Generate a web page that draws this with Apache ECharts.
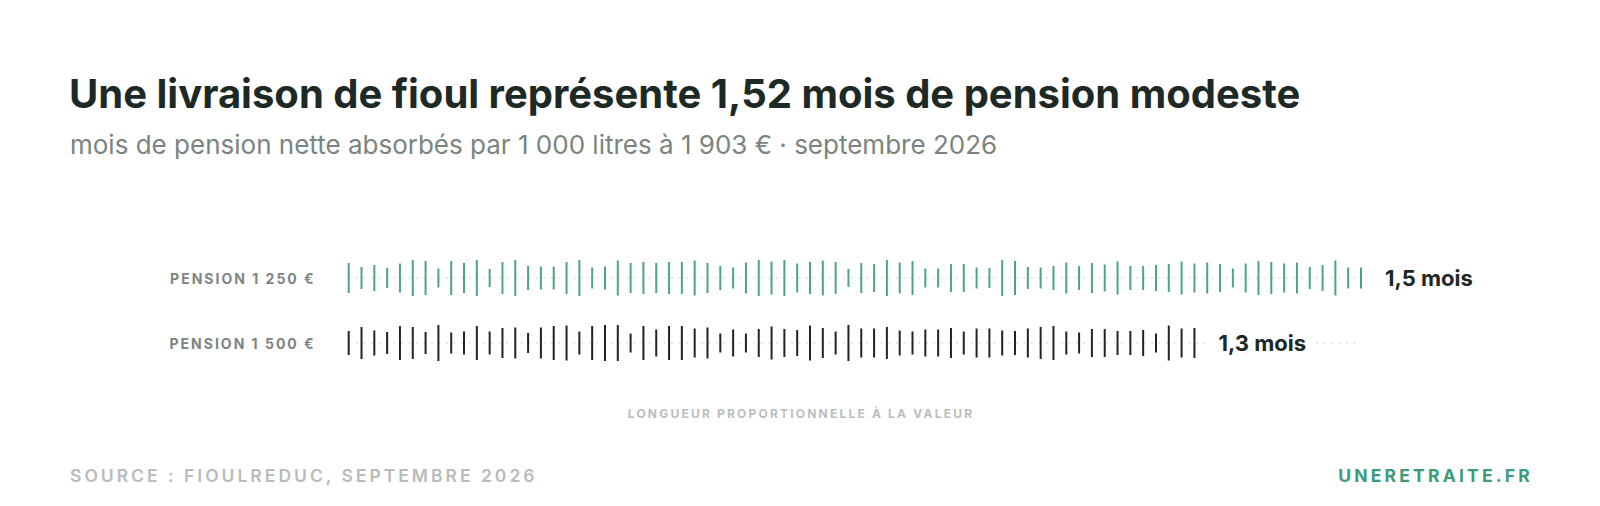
<!DOCTYPE html>
<html>
<head>
<meta charset="utf-8">
<title>Fioul et pension</title>
<script src="https://cdn.jsdelivr.net/npm/echarts@6.0.0/dist/echarts.min.js"></script>
<style>
  html, body { margin: 0; padding: 0; background: #ffffff; }
  #main { width: 1600px; height: 506px; }
  /* espacement des lettres pour les petites capitales (rendu svg) */
  #main text[fill="#7d8582"] { letter-spacing: 2px; }
  #main text[fill="#b8bcba"] { letter-spacing: 3px; }
  #main text[fill="#3d9b79"] { letter-spacing: 3.2px; }
  #main text[fill="#b9bebc"] { letter-spacing: 2.2px; }
</style>
</head>
<body>
<div id="main"></div>
<script>
// lignes du graphique
const rows = ['PENSION 1 250 €', 'PENSION 1 500 €'];
const rowLabels = ['1,5 mois', '1,3 mois'];
const rowColors = ['#4fa385', '#1c2622'];

// hauteur (px) de chaque trait
const ticks1250 = [
  30, 22, 26, 20, 29, 36, 34, 19, 34, 30, 36, 18, 32, 36, 24,
  23, 23, 32, 36, 21, 23, 35, 30, 32, 30, 32, 32, 35, 30, 24, 21,
  31, 36, 33, 36, 29, 32, 35, 32, 18, 30, 28, 36, 31, 34, 19,
  19, 28, 28, 21, 20, 36, 34, 22, 21, 24, 31, 24, 30, 27, 33, 24,
  24, 26, 28, 33, 29, 31, 28, 19, 29, 34, 32, 29, 31, 22, 26, 35, 21, 21
];
const ticks1500 = [
  24, 32, 25, 22, 34, 32, 22, 36, 21, 23, 34, 23, 30, 31, 20,
  31, 34, 35, 23, 34, 36, 36, 19, 34, 27, 34, 34, 29, 31, 19, 27,
  19, 28, 33, 28, 26, 35, 30, 23, 36, 29, 29, 32, 25, 23, 27, 27,
  30, 23, 29, 29, 25, 24, 29, 32, 34, 23, 21, 28,
  28, 24, 24, 26, 19, 35, 29, 30
];
const allTicks = [ticks1250, ticks1500];
const trackEnd = ticks1250.length - 1;

const chart = echarts.init(document.getElementById('main'), null, { renderer: 'svg' });

const series = [];
rows.forEach((row, k) => {
  // piste pointillée
  series.push({
    type: 'line',
    silent: true,
    symbol: 'none',
    z: 1,
    lineStyle: { color: '#d3d8d6', width: 1.5, type: [1.5, 6] },
    data: [[0, row], [trackEnd, row]]
  });
  const ticks = allTicks[k];
  series.push({
    type: 'scatter',
    silent: true,
    z: 3,
    symbol: 'rect',
    symbolSize: v => [2, v[2]],
    itemStyle: { color: rowColors[k], opacity: 1 },
    data: ticks.map((h, i) => {
      const item = { value: [i, row, h] };
      if (i === ticks.length - 1) {
        item.label = {
          show: true,
          position: 'right',
          distance: 13,
          formatter: rowLabels[k],
          color: '#1c2824',
          fontFamily: 'Inter',
          fontWeight: 'bold',
          fontSize: 22,
          backgroundColor: '#ffffff',
          padding: [4, 10, 4, 10]
        };
      }
      return item;
    })
  });
});

const option = {
  backgroundColor: '#ffffff',
  animation: false,
  grid: {
    left: 348.7,
    right: 1600 - 1361,
    top: 245.5,
    height: 130,
    outerBoundsMode: 'none'
  },
  xAxis: {
    type: 'value',
    min: 0,
    max: trackEnd,
    show: false
  },
  yAxis: {
    type: 'category',
    data: rows,
    inverse: true,
    axisLine: { show: false },
    axisTick: { show: false },
    splitLine: { show: false },
    axisLabel: {
      margin: 33,
      color: '#7d8582',
      fontFamily: 'Inter',
      fontWeight: 'bold',
      fontSize: 14
    }
  },
  graphic: [
    {
      type: 'text', x: 69, y: 93,
      style: {
        text: 'Une livraison de fioul représente 1,52 mois de pension modeste',
        fill: '#1d2925', fontFamily: 'Inter', fontWeight: 'bold', fontSize: 40,
        textAlign: 'left', textVerticalAlign: 'middle'
      }
    },
    {
      type: 'text', x: 70, y: 144,
      style: {
        text: 'mois de pension nette absorbés par 1 000 litres à 1 903 € · septembre 2026',
        fill: '#7a8480', fontFamily: 'Inter', fontSize: 26,
        textAlign: 'left', textVerticalAlign: 'middle'
      }
    },
    {
      type: 'text', x: 801, y: 413,
      style: {
        text: 'LONGUEUR PROPORTIONNELLE À LA VALEUR',
        fill: '#b9bebc', fontFamily: 'Inter', fontWeight: 'bold', fontSize: 12,
        textAlign: 'center', textVerticalAlign: 'middle'
      }
    },
    {
      type: 'text', x: 70, y: 475,
      style: {
        text: 'SOURCE : FIOULREDUC, SEPTEMBRE 2026',
        fill: '#b8bcba', fontFamily: 'Inter', fontWeight: 600, fontSize: 17.5,
        textAlign: 'left', textVerticalAlign: 'middle'
      }
    },
    {
      type: 'text', x: 1533, y: 475,
      style: {
        text: 'UNERETRAITE.FR',
        fill: '#3d9b79', fontFamily: 'Inter', fontWeight: 'bold', fontSize: 17.5,
        textAlign: 'right', textVerticalAlign: 'middle'
      }
    }
  ],
  series: series
};

chart.setOption(option);
</script>
</body>
</html>
